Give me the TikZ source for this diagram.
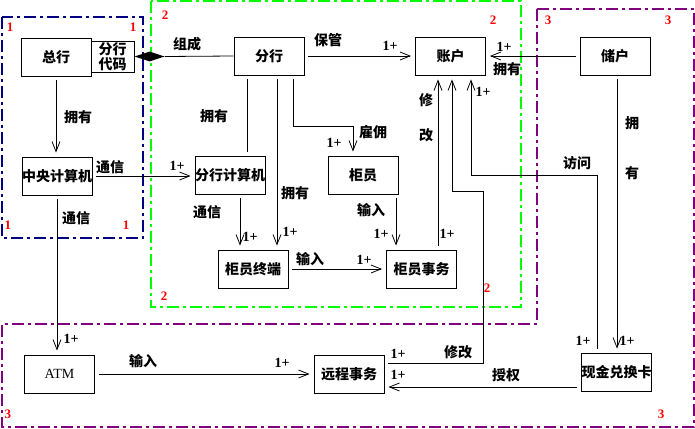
\documentclass[tikz,border=0pt]{standalone}
\usepackage{fontspec}
\setmainfont{Liberation Serif}
\newfontfamily\cjk{Noto Sans CJK SC}
\usetikzlibrary{arrows.meta,calc,shapes.geometric}
\definecolor{navyb}{RGB}{0,0,128}
\definecolor{gr}{RGB}{0,255,0}
\definecolor{pu}{RGB}{128,0,128}
\begin{document}
\begin{tikzpicture}[x=1pt,y=-1pt,
 box/.style={draw,line width=0.8pt,minimum width=70pt,minimum height=38pt,inner sep=0pt,font=\cjk\bfseries\fontsize{14}{16}\selectfont},
 lab/.style={font=\cjk\bfseries\fontsize{14}{16}\selectfont,inner sep=0pt},
 one/.style={font=\bfseries\fontsize{14}{16}\selectfont,inner sep=0pt},
 rn/.style={text=red,font=\bfseries\fontsize{13}{15}\selectfont,inner sep=0pt},
 ln/.style={line width=0.8pt},
 arr/.style={ln,-{Straight Barb[length=10pt,width=8pt]},shorten >=4pt,shorten <=4pt},
 pl/.style={ln,shorten >=4pt,shorten <=4pt},
 frame/.style={line width=1.6pt,dash pattern=on 12pt off 4pt on 3pt off 4pt}]
\useasboundingbox (0,0) rectangle (695,428);
% frames
\draw[frame,navyb] (2,17) rectangle (143,238);
\draw[frame,gr] (151,1) rectangle (521,307);
\draw[frame,pu] (537,9) -- (694,9) -- (694,427) -- (2,427) -- (2,324) -- (537,324) -- cycle;
% red numbers
\node[rn] at (10,27) {1}; \node[rn] at (133,27) {1};
\node[rn] at (8,225) {1}; \node[rn] at (126,225) {1};
\node[rn] at (165,15) {2}; \node[rn] at (493,20) {2};
\node[rn] at (164,296) {2}; \node[rn] at (487,288) {2};
\node[rn] at (548,20) {3}; \node[rn] at (668,20) {3};
\node[rn] at (8,414) {3}; \node[rn] at (661,414) {3};
% boxes
\node[box] (zh) at (56,57) {总行};
\node[draw,line width=0.8pt,minimum width=43pt,minimum height=31pt,inner sep=0pt,align=center,font=\cjk\bfseries\fontsize{14}{15}\selectfont] (dm) at (112.5,56.5) {分行\\代码};
\node[diamond,aspect=3,fill,inner sep=0pt,minimum width=30pt,minimum height=10pt,anchor=west] (dmd) at (dm.east) {};
\node[box] (zj) at (57,176) {中央计算机};
\node[box] (fh) at (269,56) {分行};
\node[box] (zhh) at (450.5,56) {账户};
\node[box] (ch) at (615,56) {储户};
\node[box] (fj) at (230,175) {分行计算机};
\node[box] (gy) at (363,175) {柜员};
\node[box] (gz) at (253,269) {柜员终端};
\node[box] (gs) at (421.5,269) {柜员事务};
\node[box,font=\fontsize{14}{16}\selectfont] (atm) at (59.5,374) {ATM};
\node[box] (yc) at (349,374) {远程事务};
\node[box] (xj) at (616.5,372) {现金兑换卡};
% connectors
\draw[ln] (dmd.east) -- (fh.west);
\draw[arr] (zh.south) -- (zh.south |- zj.north);
\draw[arr] (zj.east) -- (zj.east -| fj.west);
\draw[arr] (zj.south) -- (zj.south |- atm.north);
\draw[arr] (fh.east) -- (zhh.west);
\draw[arr] (ch.west) -- (zhh.east);
\coordinate (p1) at ($(fh.south)+(-22,0)$);
\draw[pl] (p1) -- (p1 |- fj.north);
\coordinate (p2) at ($(fh.south)+(8,0)$);
\draw[arr] (p2) -- (p2 |- gz.north);
\coordinate (p3) at ($(fh.south)+(24,0)$);
\coordinate (p4) at ($(gy.north)+(-10,0)$);
\draw[arr] (p3) |- ($(p4)+(0,-29)$) -- (p4);
\coordinate (p5) at ($(fj.south)+(10,0)$);
\draw[arr] (p5) -- (p5 |- gz.north);
\coordinate (p6) at ($(gy.south)+(33,0)$);
\draw[arr] (p6) -- (p6 |- gs.north);
\coordinate (p7) at ($(gs.north)+(16.5,0)$);
\draw[arr] (p7) -- (p7 |- zhh.south);
\draw[arr] (gz.east) -- (gs.west);
\coordinate (k1) at ($(yc.east)+(0,-11)$);
\coordinate (k2) at ($(zhh.south)+(1.5,0)$);
\draw[arr] (k1) -- ++(99,0) |- ($(k2)+(0,116)$) -- (k2);
\coordinate (k3) at ($(xj.north)+(-19.5,0)$);
\coordinate (k4) at ($(zhh.south)+(20.5,0)$);
\draw[arr] (k3) |- ($(k4)+(0,100)$) -- (k4);
\coordinate (k5) at ($(ch.south)+(2,0)$);
\draw[arr] (k5) -- (k5 |- xj.north);
\coordinate (k6) at ($(xj.west)+(0,15)$);
\draw[arr] (k6) -- (k6 -| yc.east);
\draw[arr] (atm.east) -- (yc.west);
% labels
\node[lab] at (78,117) {拥有};
\node[lab] at (110,167) {通信};
\node[one] at (177,166) {1+};
\node[lab] at (76,218) {通信};
\node[one] at (71,339) {1+};
\node[lab] at (187,44) {组成};
\node[lab] at (214,116) {拥有};
\node[lab] at (328,40) {保管};
\node[one] at (390,46) {1+};
\node[lab] at (373,132) {雇佣};
\node[one] at (334,143) {1+};
\node[one] at (504,47) {1+};
\node[lab] at (507,69) {拥有};
\node[one] at (483,92) {1+};
\node[lab] at (426,100) {修};
\node[lab] at (426,135) {改};
\node[lab] at (632,123) {拥};
\node[lab] at (632,173) {有};
\node[lab] at (577,163) {访问};
\node[lab] at (207,212) {通信};
\node[one] at (250,237) {1+};
\node[lab] at (295,193) {拥有};
\node[one] at (290,232) {1+};
\node[lab] at (310,259) {输入};
\node[one] at (364,260) {1+};
\node[lab] at (371,210) {输入};
\node[one] at (381,234) {1+};
\node[one] at (447,234) {1+};
\node[lab] at (143,361) {输入};
\node[one] at (282,363) {1+};
\node[one] at (398,354) {1+};
\node[lab] at (458,352) {修改};
\node[one] at (398,375) {1+};
\node[lab] at (506,375) {授权};
\node[one] at (583,341) {1+};
\node[one] at (627,341) {1+};
\end{tikzpicture}
\end{document}
